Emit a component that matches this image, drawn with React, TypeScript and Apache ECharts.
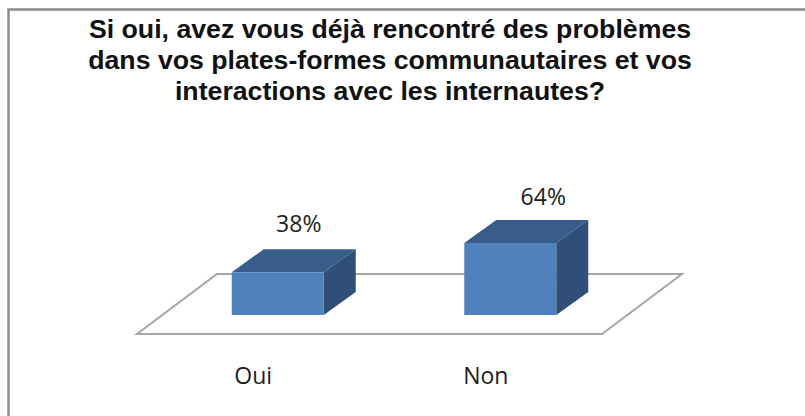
import React, { useEffect, useRef } from "react";
import * as echarts from "echarts";

const categories = ["Oui", "Non"];
const values = [38, 64];
const titleLines = [
  "Si oui, avez vous déjà rencontré des problèmes",
  "dans vos plates-formes communautaires et vos",
  "interactions avec les internautes?",
];

const FRONT = "#4f81bd";
const TOP = "#385d8a";
const SIDE = "#2f4f78";
const FLOOR = "#a6a6a6";
const BAR_W = 92;
const DEPTH_X = 32;
const DEPTH_Y = 23;
const FLOOR_DX = 80;
const FLOOR_DY = 60;
const SHIFT_X = 24.5;
const SHIFT_Y = 19;
const LABEL_DX = [21, 33];
const LABEL_DY = [-49, -47.5];

export default function App() {
  const ref = useRef<HTMLDivElement>(null);
  useEffect(() => {
    const chart = echarts.init(ref.current!, undefined, { renderer: "svg" });
    chart.setOption({
      animation: false,
      backgroundColor: "#fff",
      title: {
        text: titleLines.join("\n"),
        left: 385,
        top: 8,
        textAlign: "center",
        textStyle: {
          fontFamily: "Liberation Sans",
          fontWeight: "bold",
          fontSize: 26.7,
          lineHeight: 31,
          color: "#111",
        },
      },
      grid: { left: 137, width: 465, top: 221.5, height: 112.5 },
      xAxis: {
        type: "category",
        data: categories,
        axisLine: { show: false },
        axisTick: { show: false },
        axisLabel: {
          margin: 29,
          fontFamily: "Open Sans",
          fontSize: 23,
          color: "#222",
        },
      },
      yAxis: { type: "value", min: 0, max: 100, show: false },
      graphic: [
        {
          type: "polyline",
          silent: true,
          shape: { points: [[8.5, 416], [8.5, 9.5], [805, 9.5]] },
          style: { stroke: "#8c8c8c", lineWidth: 2.5, fill: "none" },
        },
      ],
      series: [
        {
          type: "custom",
          z: 1,
          silent: true,
          data: [0],
          renderItem: (_p: any, api: any) => {
            const cs = _p.coordSys;
            const left = cs.x;
            const right = cs.x + cs.width;
            const b = cs.y + cs.height;
            return {
              type: "polygon",
              shape: {
                points: [
                  [left, b],
                  [right, b],
                  [right + FLOOR_DX, b - FLOOR_DY],
                  [left + FLOOR_DX, b - FLOOR_DY],
                ],
              },
              style: { fill: "#fff", stroke: FLOOR, lineWidth: 2 },
            };
          },
        },
        {
          type: "custom",
          z: 2,
          data: values.map((v, i) => [i, v]),
          encode: { x: 0, y: 1 },
          renderItem: (p: any, api: any) => {
            const top = api.coord([api.value(0), api.value(1)]);
            const base = api.coord([api.value(0), 0]);
            const x0 = top[0] + SHIFT_X - BAR_W / 2;
            const x1 = x0 + BAR_W;
            const y0 = top[1] - SHIFT_Y;
            const y1 = base[1] - SHIFT_Y;
            return {
              type: "group",
              children: [
                {
                  type: "polygon",
                  shape: { points: [[x1, y0], [x1 + DEPTH_X, y0 - DEPTH_Y], [x1 + DEPTH_X, y1 - DEPTH_Y], [x1, y1]] },
                  style: { fill: SIDE },
                },
                {
                  type: "polygon",
                  shape: { points: [[x0, y0], [x0 + DEPTH_X, y0 - DEPTH_Y], [x1 + DEPTH_X, y0 - DEPTH_Y], [x1, y0]] },
                  style: { fill: TOP },
                },
                {
                  type: "rect",
                  shape: { x: x0, y: y0, width: BAR_W, height: y1 - y0 },
                  style: { fill: FRONT },
                },
                {
                  type: "text",
                  x: x0 + BAR_W / 2 + LABEL_DX[p.dataIndex],
                  y: y0 + LABEL_DY[p.dataIndex],
                  style: {
                    text: api.value(1) + "%",
                    align: "center",
                    verticalAlign: "middle",
                    fontFamily: "Open Sans",
                    fontSize: 23,
                    fill: "#222",
                  },
                },
              ],
            };
          },
        },
      ],
    });
    return () => chart.dispose();
  }, []);
  return <div ref={ref} style={{ position: "absolute", left: 0, top: 0, width: 805, height: 416 }} />;
}
